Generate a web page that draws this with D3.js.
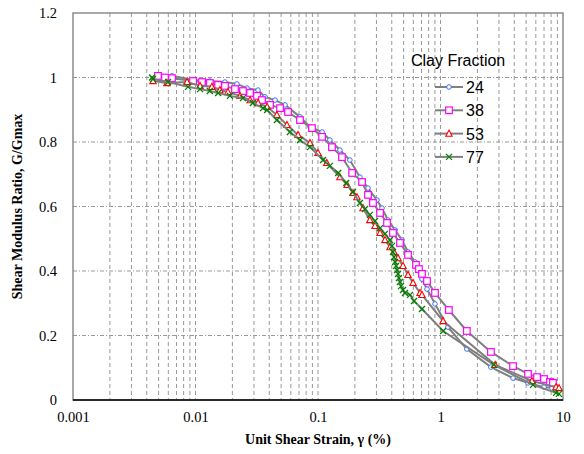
<!DOCTYPE html>
<html>
<head>
<meta charset="utf-8">
<script src="https://cdn.jsdelivr.net/npm/d3@7"></script>
<style>
  body { margin: 0; background: #fff; }
  svg { display: block; }
  .axis text { font-family: "Liberation Serif", "Times New Roman", serif; font-size: 14.5px; fill: #000; }
</style>
</head>
<body>
<div id="chart"></div>
<script>
// strain (%) and G/Gmax, one pair list per clay fraction
const clay24 = [
  [0.00494, 1.0], [0.00564, 1.0], [0.00643, 1.005], [0.00955, 0.992], [0.0131, 0.989],
  [0.0174, 0.986], [0.0218, 0.98], [0.0263, 0.967], [0.0324, 0.961], [0.0369, 0.94],
  [0.0446, 0.93], [0.0538, 0.915], [0.0713, 0.878], [0.0861, 0.847], [0.108, 0.831],
  [0.125, 0.806], [0.151, 0.775], [0.182, 0.744], [0.22, 0.691], [0.256, 0.657],
  [0.303, 0.62], [0.333, 0.595], [0.372, 0.558], [0.426, 0.527], [0.485, 0.496],
  [0.543, 0.459], [0.619, 0.428], [0.706, 0.375], [0.776, 0.344], [0.902, 0.298],
  [1.15, 0.226], [1.64, 0.158], [2.58, 0.102], [3.91, 0.068], [5.18, 0.053],
  [7.0, 0.04], [8.13, 0.037], [8.77, 0.037]
]
const clay38 = [
  [0.00494, 1.005], [0.00564, 1.0], [0.00643, 0.998], [0.00955, 0.989], [0.0113, 0.986],
  [0.0131, 0.983], [0.0153, 0.977], [0.0174, 0.974], [0.021, 0.964], [0.0244, 0.958],
  [0.0279, 0.952], [0.0318, 0.943], [0.0349, 0.93], [0.0406, 0.915], [0.049, 0.905],
  [0.0569, 0.893], [0.0713, 0.868], [0.0893, 0.843], [0.108, 0.816], [0.13, 0.784],
  [0.157, 0.753], [0.19, 0.704], [0.229, 0.676], [0.256, 0.636], [0.281, 0.611],
  [0.321, 0.58], [0.366, 0.549], [0.409, 0.518], [0.467, 0.487], [0.543, 0.45],
  [0.631, 0.419], [0.667, 0.406], [0.706, 0.391], [0.776, 0.369], [0.902, 0.332],
  [1.17, 0.279], [1.64, 0.214], [2.58, 0.149], [3.91, 0.105], [5.18, 0.081],
  [6.14, 0.071], [7.0, 0.065], [7.83, 0.056], [8.28, 0.053]
]
const clay53 = [
  [0.0045, 0.989], [0.00585, 0.983], [0.00853, 0.986], [0.0109, 0.974], [0.0136, 0.971],
  [0.0158, 0.961], [0.0184, 0.955], [0.0231, 0.943], [0.0279, 0.93], [0.0324, 0.921],
  [0.0384, 0.909], [0.0462, 0.884], [0.0558, 0.853], [0.0687, 0.822], [0.0861, 0.797],
  [0.1, 0.766], [0.118, 0.735], [0.151, 0.691], [0.173, 0.667], [0.193, 0.642],
  [0.208, 0.629], [0.233, 0.595], [0.265, 0.558], [0.292, 0.54], [0.321, 0.518],
  [0.352, 0.496], [0.387, 0.474], [0.417, 0.459], [0.45, 0.44], [0.494, 0.416],
  [0.543, 0.388], [0.597, 0.363], [0.681, 0.332], [0.706, 0.326], [1.05, 0.245],
  [2.79, 0.109], [5.58, 0.059], [8.77, 0.04], [9.27, 0.037]
]
const clay77 = [
  [0.00442, 1.0], [0.0045, 0.995], [0.00597, 0.986], [0.00869, 0.971], [0.0109, 0.964],
  [0.0131, 0.958], [0.0153, 0.952], [0.0191, 0.943], [0.0244, 0.936], [0.0294, 0.921],
  [0.0356, 0.905], [0.0384, 0.899], [0.0462, 0.868], [0.059, 0.831], [0.0713, 0.806],
  [0.0861, 0.784], [0.11, 0.744], [0.125, 0.726], [0.146, 0.704], [0.17, 0.673],
  [0.193, 0.645], [0.22, 0.611], [0.242, 0.592], [0.265, 0.574], [0.292, 0.555],
  [0.321, 0.533], [0.352, 0.515], [0.387, 0.496], [0.402, 0.478], [0.409, 0.459],
  [0.417, 0.443], [0.426, 0.428], [0.434, 0.416], [0.442, 0.403], [0.45, 0.391],
  [0.458, 0.378], [0.467, 0.366], [0.476, 0.353], [0.494, 0.341], [0.513, 0.332],
  [0.564, 0.326], [0.608, 0.307], [0.706, 0.282], [1.05, 0.214], [2.73, 0.109],
  [5.69, 0.047], [8.77, 0.022], [9.27, 0.019]
]

const seriesNames = ['24', '38', '53', '77']
const seriesData = [clay24, clay38, clay53, clay77]
const xTicks = [0.001, 0.01, 0.1, 1, 10]
const yTicks = [0, 0.2, 0.4, 0.6, 0.8, 1, 1.2]

const width = 584
const height = 454
const margin = { top: 13, right: 21, bottom: 54, left: 73 }
const innerWidth = width - margin.left - margin.right
const innerHeight = height - margin.top - margin.bottom

const markerStyle = [
  { shape: 'circle', color: '#3d6ff0' },
  { shape: 'square', color: '#ff00ff' },
  { shape: 'triangle', color: '#ff0000' },
  { shape: 'cross', color: '#008000' }
]

const svg = d3.select('#chart').append('svg')
  .attr('width', width)
  .attr('height', height)

const g = svg.append('g')
  .attr('transform', 'translate(' + margin.left + ',' + margin.top + ')')

const xScale = d3.scaleLog().domain([0.001, 10]).range([0, innerWidth])
const yScale = d3.scaleLinear().domain([0, 1.2]).range([innerHeight, 0])

// grid, one dashed line at every log step and every 0.2
const xGrid = []
for (let k = -3; k < 1; k++) {
  for (let m = 1; m <= 9; m++) {
    const v = m * Math.pow(10, k)
    if (v > 0.0011) xGrid.push(v)
  }
}
const grid = g.append('g').attr('class', 'grid')
grid.selectAll('line.v').data(xGrid).enter().append('line')
  .attr('class', 'v')
  .attr('x1', d => xScale(d)).attr('x2', d => xScale(d))
  .attr('y1', 0).attr('y2', innerHeight)
  .attr('stroke', '#999').attr('stroke-width', 1)
  .attr('stroke-dasharray', '4,3')
grid.selectAll('line.h').data(yTicks.slice(1, -1)).enter().append('line')
  .attr('class', 'h')
  .attr('x1', 0).attr('x2', innerWidth)
  .attr('y1', d => yScale(d)).attr('y2', d => yScale(d))
  .attr('stroke', '#999').attr('stroke-width', 1)
  .attr('stroke-dasharray', '4,2,1,2')

// frame
g.append('rect')
  .attr('x', 0).attr('y', 0)
  .attr('width', innerWidth).attr('height', innerHeight)
  .attr('fill', 'none').attr('stroke', '#8c8c8c').attr('stroke-width', 1.5)
g.append('line')
  .attr('x1', 0).attr('x2', innerWidth)
  .attr('y1', innerHeight).attr('y2', innerHeight)
  .attr('stroke', '#000').attr('stroke-width', 1.5)

// axes
const xAxis = g.append('g')
  .attr('class', 'axis')
  .attr('transform', 'translate(0,' + innerHeight + ')')
  .call(d3.axisBottom(xScale).tickValues(xTicks).tickSize(0).tickPadding(12)
    .tickFormat(d => String(d)))
const yAxis = g.append('g')
  .attr('class', 'axis')
  .call(d3.axisLeft(yScale).tickValues(yTicks).tickSize(0).tickPadding(16)
    .tickFormat(d => String(d)))
xAxis.select('.domain').remove()
yAxis.select('.domain').remove()
svg.selectAll('.axis')
  .attr('font-family', '"Liberation Serif", "Times New Roman", serif')
  .attr('font-size', 14.5)

// titles
svg.append('text')
  .attr('x', margin.left + innerWidth / 2)
  .attr('y', 444)
  .attr('text-anchor', 'middle')
  .attr('font-family', '"Liberation Serif", "Times New Roman", serif')
  .attr('font-weight', 'bold')
  .attr('font-size', 14)
  .text('Unit Shear Strain, γ (%)')
svg.append('text')
  .attr('transform', 'translate(22,' + (margin.top + innerHeight / 2) + ') rotate(-90)')
  .attr('text-anchor', 'middle')
  .attr('font-family', '"Liberation Serif", "Times New Roman", serif')
  .attr('font-weight', 'bold')
  .attr('font-size', 14)
  .text('Shear Modulus Ratio, G/Gmax')

function drawMarker (sel, style) {
  const c = style.color
  if (style.shape === 'circle') {
    sel.append('circle').attr('r', 2.3)
      .attr('fill', '#fff').attr('stroke', c).attr('stroke-width', 1)
  } else if (style.shape === 'square') {
    sel.append('rect').attr('x', -3.3).attr('y', -3.3)
      .attr('width', 6.6).attr('height', 6.6)
      .attr('fill', '#fff').attr('stroke', c).attr('stroke-width', 1.2)
  } else if (style.shape === 'triangle') {
    sel.append('path').attr('d', 'M0,-3.5L3.2,2.6L-3.2,2.6Z')
      .attr('fill', '#fff').attr('stroke', c).attr('stroke-width', 1.1)
  } else {
    sel.append('path').attr('d', 'M-3,-3L3,3M-3,3L3,-3')
      .attr('fill', 'none').attr('stroke', c).attr('stroke-width', 1.3)
  }
}

const line = d3.line()
  .x(d => xScale(d[0]))
  .y(d => yScale(d[1]))

seriesData.forEach((data, i) => {
  const sg = g.append('g').attr('class', 'series s' + seriesNames[i])
  sg.append('path')
    .datum(data)
    .attr('d', line)
    .attr('fill', 'none')
    .attr('stroke', '#7f7f7f')
    .attr('stroke-width', 2)
  sg.selectAll('.pt').data(data).enter().append('g')
    .attr('class', 'pt')
    .attr('transform', d => 'translate(' + xScale(d[0]) + ',' + yScale(d[1]) + ')')
    .each(function () { drawMarker(d3.select(this), markerStyle[i]) })
})

// legend
const legend = svg.append('g').attr('transform', 'translate(411,0)')
legend.append('text')
  .attr('x', 0).attr('y', 66)
  .attr('font-family', '"Liberation Sans", Arial, sans-serif')
  .attr('font-size', 16)
  .text('Clay Fraction')
seriesNames.forEach((name, i) => {
  const y = 87 + i * 23.3
  const item = legend.append('g').attr('transform', 'translate(0,' + y + ')')
  item.append('line')
    .attr('x1', 24).attr('x2', 52)
    .attr('stroke', '#7f7f7f').attr('stroke-width', 2)
  const m = item.append('g').attr('transform', 'translate(38,0)')
  drawMarker(m, markerStyle[i])
  item.append('text')
    .attr('x', 55).attr('y', 6)
    .attr('font-family', '"Liberation Sans", Arial, sans-serif')
    .attr('font-size', 16)
    .text(name)
})
</script>
</body>
</html>
